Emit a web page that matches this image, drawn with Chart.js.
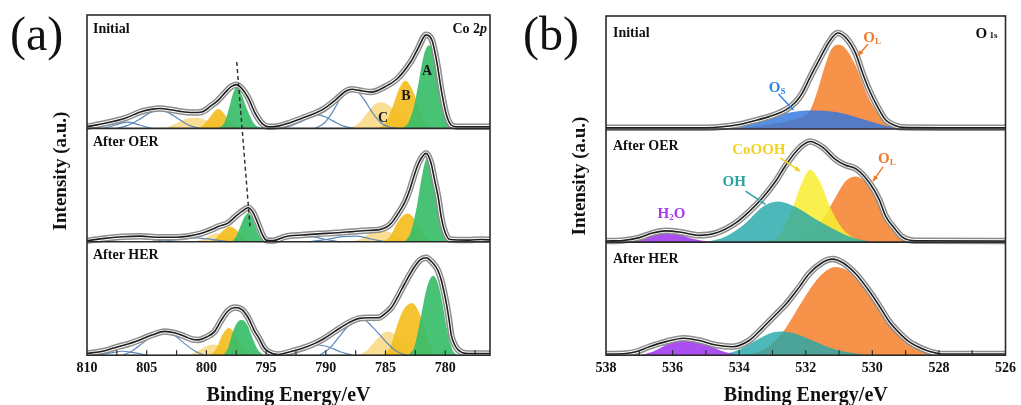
<!DOCTYPE html>
<html>
<head>
<meta charset="utf-8">
<script src="https://cdn.jsdelivr.net/npm/chart.js@4.4.1/dist/chart.umd.min.js"></script>
<style>
  html, body { margin: 0; padding: 0; overflow: hidden; background: #fff; width: 1021px; height: 405px; }
  canvas { position: absolute; top: 0; }
  #coChart { left: 0; }
  #oChart { left: 510px; }
</style>
</head>
<body>
<canvas id="coChart" width="510" height="420"></canvas>
<canvas id="oChart" width="511" height="420"></canvas>
<script>
// sub panels from top to bottom
const panelNames = ['Initial', 'After OER', 'After HER'];
const coTicks = [810, 805, 800, 795, 790, 785, 780];
const oTicks = [538, 536, 534, 532, 530, 528, 526];

// [binding energy, height as fraction of its sub panel], one list per sub panel
const coFit = [
  [[810,0.015],[808.5,0.045],[806.8,0.09],[805.4,0.15],[804.5,0.17],[803.9,0.175],[803,0.165],[802.2,0.15],[801.2,0.14],[800.4,0.145],[799.6,0.2],[799,0.25],[798.4,0.32],[797.9,0.37],[797.5,0.386],[797.1,0.36],[796.5,0.27],[795.9,0.13],[795.3,0.04],[794.8,0.015],[794,0.02],[793,0.05],[792,0.09],[791,0.13],[790.2,0.17],[789.2,0.25],[788.3,0.33],[787.8,0.345],[787.2,0.335],[786.2,0.32],[785,0.37],[784,0.44],[782.9,0.585],[782.3,0.7],[781.6,0.825],[781.1,0.775],[780.7,0.585],[780.3,0.32],[779.9,0.12],[779.5,0.03],[779,0.015],[776,0.015]],
  [[810,0.01],[808.5,0.03],[807,0.045],[805.5,0.05],[804,0.04],[802.5,0.04],[801.5,0.05],[800.4,0.075],[799.5,0.11],[799,0.135],[798.2,0.165],[797.6,0.22],[797,0.27],[796.5,0.3],[796.1,0.26],[795.7,0.165],[795.3,0.06],[795,0.015],[794.4,0.01],[793.4,0.045],[792,0.06],[790.6,0.07],[789,0.08],[787.8,0.09],[786.5,0.1],[785.6,0.105],[784.9,0.13],[784.5,0.165],[784,0.24],[783.4,0.345],[783,0.45],[782.6,0.585],[782.2,0.7],[781.6,0.78],[781.2,0.7],[780.9,0.55],[780.6,0.4],[780.3,0.2],[780,0.08],[779.6,0.02],[778,0.015],[777,0.02],[776,0.015]],
  [[810,0.015],[808.5,0.04],[807.4,0.075],[806.5,0.1],[805.7,0.13],[804.5,0.18],[803.5,0.21],[802.6,0.195],[801.8,0.165],[801.2,0.14],[800.7,0.135],[800,0.16],[799.3,0.21],[798.8,0.3],[798.2,0.39],[797.6,0.42],[797,0.4],[796.5,0.33],[796,0.22],[795.6,0.15],[795.2,0.07],[794.8,0.03],[794,0.006],[793,0.03],[792,0.06],[791,0.1],[790.1,0.15],[789.1,0.22],[788.1,0.285],[787.2,0.325],[786.4,0.33],[785.6,0.33],[785,0.37],[784.5,0.42],[784,0.51],[783.4,0.63],[782.6,0.775],[782.1,0.84],[781.6,0.86],[781.1,0.82],[780.6,0.745],[780.3,0.65],[780,0.51],[779.7,0.33],[779.5,0.18],[779.2,0.09],[778.9,0.045],[778.1,0.015],[776,0.015]]
];
// Co 2p3/2 components A, B, C
const coPeakA = [
  [[783.6,0],[783.1,0.05],[782.6,0.2],[782.2,0.42],[781.8,0.64],[781.4,0.73],[781,0.68],[780.6,0.5],[780.2,0.25],[779.8,0.08],[779.4,0.01],[779.1,0]],
  [[783.4,0],[782.9,0.08],[782.4,0.3],[782,0.55],[781.7,0.7],[781.4,0.75],[781.1,0.66],[780.8,0.48],[780.4,0.25],[780,0.07],[779.6,0]],
  [[783.1,0],[782.6,0.07],[782.2,0.25],[781.8,0.47],[781.4,0.64],[781,0.7],[780.6,0.63],[780.2,0.44],[779.8,0.2],[779.4,0.05],[779,0]]
];
const coPeakB = [
  [[785.6,0],[785,0.05],[784.4,0.19],[783.9,0.34],[783.35,0.42],[782.7,0.33],[782.2,0.18],[781.7,0.06],[781.1,0]],
  [[785.3,0],[784.6,0.05],[784,0.17],[783.5,0.235],[783.1,0.25],[782.6,0.2],[782.1,0.1],[781.5,0.03],[780.8,0]],
  [[785.3,0],[784.6,0.07],[784.1,0.24],[783.5,0.4],[782.8,0.46],[782.2,0.38],[781.7,0.22],[781.1,0.06],[780.5,0]]
];
const coPeakC = [
  [[787.9,0],[787.2,0.05],[786.5,0.14],[785.9,0.21],[785.4,0.23],[784.8,0.21],[784,0.13],[783.2,0.05],[782.4,0]],
  [[787.8,0],[787,0.03],[786.2,0.08],[785.5,0.105],[784.8,0.09],[784,0.05],[783.2,0.01],[782.6,0]],
  [[787.3,0],[786.6,0.04],[785.9,0.12],[785.3,0.19],[784.8,0.21],[784.2,0.18],[783.5,0.1],[782.8,0.03],[782.2,0]]
];
// Co 2p1/2 components
const coPeakA2 = [
  [[799,0],[798.5,0.05],[798.1,0.18],[797.8,0.3],[797.45,0.367],[797.1,0.31],[796.6,0.17],[796,0.04],[795.3,0]],
  [[797.9,0],[797.5,0.05],[797.1,0.15],[796.8,0.22],[796.5,0.255],[796.2,0.22],[795.9,0.14],[795.5,0.04],[795.1,0]],
  [[798.6,0],[798.2,0.06],[797.8,0.2],[797.4,0.29],[797,0.31],[796.6,0.27],[796.2,0.17],[795.7,0.05],[795.2,0]]
];
const coPeakB2 = [
  [[801,0],[800.4,0.02],[799.8,0.085],[799.4,0.14],[799,0.17],[798.6,0.14],[798.2,0.085],[797.6,0.02],[797,0]],
  [[799.8,0],[799.2,0.03],[798.7,0.09],[798.3,0.125],[798,0.135],[797.6,0.115],[797.2,0.07],[796.7,0.02],[796.2,0]],
  [[799.7,0],[799.2,0.05],[798.8,0.15],[798.4,0.22],[798.1,0.24],[797.7,0.2],[797.3,0.12],[796.8,0.04],[796.3,0]]
];
const coPeakC2 = [
  [[803.5,0],[802.6,0.04],[801.7,0.085],[801,0.095],[800.2,0.08],[799.4,0.04],[798.6,0.01],[798,0]],
  [[801,0],[800.2,0.03],[799.5,0.065],[799,0.075],[798.4,0.06],[797.7,0.03],[797,0.005],[796.6,0]],
  [[801.5,0],[800.7,0.04],[800,0.08],[799.4,0.095],[798.8,0.08],[798.1,0.04],[797.4,0.01],[796.8,0]]
];
// shake-up satellites (blue lines)
const coSat1 = [
  [[790.9,0],[790.1,0.05],[789.4,0.15],[788.8,0.26],[788.2,0.33],[787.8,0.34],[787.3,0.32],[786.7,0.24],[786.1,0.14],[785.4,0.05],[784.6,0.01],[784,0]],
  [[791.5,0],[790,0.02],[788.6,0.045],[787.4,0.05],[786.2,0.025],[785,0]],
  [[790.5,0],[789.7,0.06],[788.9,0.16],[788.1,0.26],[787.3,0.31],[786.8,0.31],[786.1,0.25],[785.4,0.17],[784.7,0.09],[784,0.03],[783.2,0]]
];
const coSat2 = [
  [[794,0],[793,0.02],[792.1,0.06],[791.3,0.1],[790.7,0.12],[790,0.1],[789.3,0.06],[788.5,0.02],[787.6,0]],
  [[795,0],[793.8,0.02],[792.5,0.045],[791.2,0.045],[790,0.02],[788.8,0]],
  [[793.5,0],[792.5,0.03],[791.5,0.07],[790.6,0.09],[789.7,0.07],[788.8,0.03],[787.8,0]]
];
const coSat3 = [
  [[807.5,0],[806.5,0.03],[805.6,0.08],[804.8,0.135],[803.9,0.16],[803.1,0.135],[802.3,0.08],[801.5,0.03],[800.6,0]],
  [[804,0],[802.5,0.02],[801,0.035],[799.5,0.02],[798,0]],
  [[807,0],[806.2,0.04],[805.3,0.11],[804.4,0.18],[803.5,0.2],[802.6,0.17],[801.8,0.1],[801,0.04],[800.2,0]]
];
const coSat4 = [
  [[808.6,0],[807.6,0.03],[806.6,0.055],[805.6,0.03],[804.6,0]],
  [[809,0],[807.5,0.02],[806,0.035],[804.5,0.02],[803,0]],
  [[809,0],[808,0.02],[807,0.035],[806,0.02],[805,0]]
];
// dashed guide: [energy, stacked height]
const coPeakShift = [[797.46, 2.585], [796.35, 1.138]];

const oFit = [
  [[538,0.012],[536,0.012],[535,0.012],[534.5,0.02],[534,0.04],[533.6,0.07],[533.1,0.11],[532.6,0.17],[532.3,0.24],[532.1,0.32],[531.85,0.47],[531.6,0.61],[531.3,0.77],[531.04,0.85],[530.8,0.81],[530.5,0.67],[530.3,0.5],[530.1,0.35],[529.85,0.2],[529.6,0.08],[529.3,0.03],[529.1,0.015],[528,0.012],[526,0.012]],
  [[538,0.01],[537.5,0.015],[537,0.04],[536.6,0.08],[536.2,0.1],[535.8,0.09],[535.2,0.06],[534.7,0.08],[534.1,0.17],[533.7,0.27],[533.3,0.39],[532.9,0.54],[532.6,0.68],[532.2,0.83],[531.87,0.89],[531.5,0.84],[531.1,0.73],[530.8,0.68],[530.5,0.65],[530.1,0.53],[529.8,0.38],[529.6,0.23],[529.3,0.11],[529.1,0.045],[528.7,0.012],[526,0.01]],
  [[538,0.01],[537.4,0.015],[537.1,0.03],[536.7,0.075],[536.2,0.12],[535.67,0.15],[535.2,0.13],[534.7,0.09],[534.2,0.075],[533.7,0.13],[533.3,0.24],[532.9,0.36],[532.6,0.45],[532.2,0.6],[531.9,0.72],[531.5,0.82],[531.2,0.85],[530.9,0.82],[530.5,0.72],[530.1,0.57],[529.8,0.44],[529.5,0.3],[529.2,0.2],[528.9,0.12],[528.6,0.07],[528.3,0.035],[527.9,0.01],[526,0.01]]
];
const oLattice = [
  [[534.4,0],[533.6,0.02],[532.9,0.05],[532.3,0.09],[531.9,0.15],[531.7,0.29],[531.4,0.58],[531.2,0.72],[531,0.745],[530.8,0.71],[530.5,0.56],[530.1,0.27],[529.6,0.06],[529.2,0]],
  [[532.4,0],[531.9,0.06],[531.5,0.2],[531.1,0.4],[530.8,0.54],[530.5,0.58],[530.2,0.53],[529.9,0.4],[529.6,0.23],[529.3,0.09],[528.9,0.015],[528.6,0]],
  [[533.8,0],[533.2,0.06],[532.7,0.2],[532.1,0.48],[531.6,0.69],[531.1,0.78],[530.5,0.7],[530.1,0.56],[529.6,0.34],[529.1,0.17],[528.6,0.07],[528.1,0.01],[527.8,0]]
];
const oSurface = [
  [[534.6,0],[534,0.03],[533.3,0.08],[532.6,0.14],[532.1,0.163],[531.85,0.165],[531.1,0.15],[530.3,0.09],[529.6,0.03],[529.1,0]],
  null,
  null
];
const oCoOOH = [
  null,
  [[533.2,0],[532.8,0.06],[532.4,0.3],[532.15,0.5],[531.87,0.64],[531.55,0.52],[531.3,0.33],[530.9,0.12],[530.5,0.03],[530.1,0]],
  null
];
const oHydroxide = [
  null,
  [[535,0],[534.4,0.05],[533.8,0.17],[533.3,0.31],[532.85,0.36],[532.3,0.31],[531.8,0.22],[531.2,0.12],[530.6,0.04],[530,0]],
  [[534.5,0],[534,0.05],[533.5,0.13],[533,0.2],[532.7,0.21],[532.3,0.19],[531.8,0.13],[531.2,0.06],[530.5,0.015],[530,0]]
];
const oWater = [
  null,
  [[537.4,0],[537,0.025],[536.6,0.065],[536.2,0.08],[535.8,0.065],[535.4,0.03],[534.9,0.005],[534.5,0]],
  [[537,0],[536.6,0.03],[536.2,0.09],[535.9,0.13],[535.6,0.14],[535.2,0.12],[534.8,0.07],[534.4,0.025],[534,0]]
];

const FS = "'Liberation Serif', 'Times New Roman', serif";

function pts(arr, off) {
  return arr.map(p => ({ x: p[0], y: p[1] + off }));
}
function area(arr, off, color) {
  return { data: pts(arr, off), borderWidth: 0, borderColor: 'rgba(0,0,0,0)', backgroundColor: color, fill: { value: off } };
}
function curve(arr, off, color, width) {
  return { data: pts(arr, off), borderColor: color, borderWidth: width, fill: false };
}
// data circles look like a grey band with the black fit in the middle
function fitLayers(arr, off) {
  return [curve(arr, off, '#8d8d8d', 6.5), curve(arr, off, '#ffffff', 3.5), curve(arr, off, '#1e1e1e', 1.6)];
}

const coLayers = [];
panelNames.forEach((name, i) => {
  const off = 2 - i;
  const pale = 'rgba(248,219,138,0.92)', gold = 'rgba(244,190,32,0.92)', green = 'rgba(58,190,106,0.93)';
  [[coPeakC2, pale], [coPeakB2, gold], [coPeakA2, green], [coPeakC, pale], [coPeakB, gold], [coPeakA, green]]
    .forEach(([s, c]) => coLayers.push(area(s[i], off, c)));
  [coSat1, coSat2, coSat3, coSat4].forEach(s => coLayers.push(curve(s[i], off, '#5b88bd', 1.2)));
  fitLayers(coFit[i], off).forEach(d => coLayers.push(d));
});
coLayers.push({
  data: coPeakShift.map(p => ({ x: p[0], y: p[1] })),
  borderColor: '#2a2a2a', borderWidth: 1.4, borderDash: [4, 3], fill: false, cubicInterpolationMode: 'default', tension: 0
});

const oLayers = [];
panelNames.forEach((name, i) => {
  const off = 2 - i;
  [[oLattice, '#f7924a'], [oCoOOH, 'rgba(248,238,50,0.86)'], [oSurface, 'rgba(48,118,222,0.82)'],
   [oHydroxide, 'rgba(38,168,170,0.82)'], [oWater, 'rgba(164,64,240,0.92)']]
    .forEach(([s, c]) => { if (s[i]) oLayers.push(area(s[i], off, c)); });
  fitLayers(oFit[i], off).forEach(d => oLayers.push(d));
});

function setFont(ctx, size, bold, italic) {
  ctx.font = (italic ? 'italic ' : '') + (bold ? 'bold ' : '') + size + 'px ' + FS;
}
// parts: [text, size, dy, italic]
function rich(ctx, parts, x, y, color, align) {
  let w = 0;
  parts.forEach(p => { setFont(ctx, p[1], true, p[3]); w += ctx.measureText(p[0]).width; });
  let cx = align === 'right' ? x - w : align === 'center' ? x - w / 2 : x;
  ctx.fillStyle = color;
  ctx.textAlign = 'left';
  ctx.textBaseline = 'alphabetic';
  parts.forEach(p => {
    setFont(ctx, p[1], true, p[3]);
    ctx.fillText(p[0], cx, y + (p[2] || 0));
    cx += ctx.measureText(p[0]).width;
  });
}
function arrow(ctx, x1, y1, x2, y2, color, head) {
  ctx.strokeStyle = color;
  ctx.fillStyle = color;
  ctx.lineWidth = 1.5;
  ctx.beginPath(); ctx.moveTo(x1, y1); ctx.lineTo(x2, y2); ctx.stroke();
  if (!head) return;
  const a = Math.atan2(y2 - y1, x2 - x1);
  ctx.beginPath();
  ctx.moveTo(x2, y2);
  ctx.lineTo(x2 - 6 * Math.cos(a - 0.45), y2 - 6 * Math.sin(a - 0.45));
  ctx.lineTo(x2 - 6 * Math.cos(a + 0.45), y2 - 6 * Math.sin(a + 0.45));
  ctx.closePath(); ctx.fill();
}

// frame, separators, inner ticks and all the labels
function decor(cfg) {
  return {
    id: 'decor',
    afterDatasetsDraw(chart) {
      const { ctx, chartArea: a, scales: { x, y } } = chart;
      ctx.save();
      ctx.strokeStyle = '#2b2b2b';
      ctx.lineWidth = 1.6;
      ctx.strokeRect(a.left, a.top, a.width, a.height);
      [1, 2].forEach(v => {
        const py = y.getPixelForValue(v);
        ctx.beginPath(); ctx.moveTo(a.left, py); ctx.lineTo(a.right, py); ctx.stroke();
      });
      ctx.lineWidth = 1.2;
      for (let v = cfg.tickFrom; v <= cfg.tickTo + 1e-6; v += cfg.tickStep) {
        const px = x.getPixelForValue(v);
        ctx.beginPath(); ctx.moveTo(px, a.bottom); ctx.lineTo(px, a.bottom - 5); ctx.stroke();
      }
      // panel letter
      ctx.fillStyle = '#111';
      ctx.font = '48px ' + FS;
      ctx.textAlign = 'left';
      ctx.textBaseline = 'alphabetic';
      ctx.fillText(cfg.letter, cfg.letterX, 50);
      // y title
      ctx.save();
      ctx.translate(cfg.yTitle[0], cfg.yTitle[1]);
      ctx.rotate(-Math.PI / 2);
      setFont(ctx, 19, true);
      ctx.textAlign = 'center';
      ctx.textBaseline = 'middle';
      ctx.fillText('Intensity (a.u.)', 0, 0);
      ctx.restore();
      // sub panel names
      panelNames.forEach((name, i) => {
        rich(ctx, [[name, 14]], a.left + cfg.nameDx, y.getPixelForValue(3 - i) + cfg.nameDy, '#111', 'left');
      });
      rich(ctx, cfg.corner, a.right - cfg.cornerDx, a.top + cfg.cornerDy, '#111', 'right');
      cfg.notes.forEach(n => {
        rich(ctx, n.parts, x.getPixelForValue(n.at[0]), y.getPixelForValue(n.at[1]), n.color, n.align || 'left');
        if (n.arrow) {
          arrow(ctx, x.getPixelForValue(n.arrow[0]), y.getPixelForValue(n.arrow[1]),
            x.getPixelForValue(n.arrow[2]), y.getPixelForValue(n.arrow[3]), n.color, n.head);
        }
      });
      ctx.restore();
    }
  };
}

function options(range, ticks, pad) {
  return {
    responsive: false,
    animation: false,
    devicePixelRatio: 1,
    layout: { padding: pad },
    elements: { point: { radius: 0 }, line: { cubicInterpolationMode: 'monotone' } },
    plugins: { legend: { display: false }, tooltip: { enabled: false } },
    scales: {
      x: {
        type: 'linear', reverse: true, min: range[0], max: range[1],
        afterBuildTicks: s => { s.ticks = ticks.map(v => ({ value: v })); },
        grid: { display: false, drawTicks: false },
        border: { display: false },
        ticks: { autoSkip: false, padding: 5, color: '#111', font: { family: FS, size: 14, weight: 'bold' } },
        title: {
          display: true, text: 'Binding Energy/eV', color: '#111', padding: { top: 2, bottom: 0 },
          font: { family: FS, size: 20, weight: 'bold', lineHeight: 1.2 }
        }
      },
      y: { display: false, min: 0, max: 3 }
    }
  };
}

new Chart(document.getElementById('coChart'), {
  type: 'line',
  data: { datasets: coLayers.reverse() },
  options: options([776.25, 810], coTicks, { left: 87, right: 20, top: 15, bottom: 12 }),
  plugins: [decor({
    letter: '(a)', letterX: 10, yTitle: [61, 171],
    tickFrom: 777.5, tickTo: 807.5, tickStep: 2.5,
    nameDx: 6, nameDy: 17.5,
    corner: [['Co 2', 14], ['p', 14, 0, true]], cornerDx: 3, cornerDy: 18,
    notes: [
      { parts: [['A', 14]], at: [781.52, 2.47], color: '#1a1a1a', align: 'center' },
      { parts: [['B', 14]], at: [783.3, 2.25], color: '#1a1a1a', align: 'center' },
      { parts: [['C', 14]], at: [785.2, 2.056], color: '#1a1a1a', align: 'center' }
    ]
  })]
});

new Chart(document.getElementById('oChart'), {
  type: 'line',
  data: { datasets: oLayers.reverse() },
  options: options([526, 538], oTicks, { left: 96, right: 13, top: 16, bottom: 12 }),
  plugins: [decor({
    letter: '(b)', letterX: 13, yTitle: [70, 176],
    tickFrom: 527, tickTo: 537, tickStep: 1,
    nameDx: 7, nameDy: 21,
    corner: [['O', 15], [' 1s', 9, 0]], cornerDx: 8, cornerDy: 22,
    notes: [
      { parts: [['O', 15], ['L', 9, 2]], at: [530.27, 2.77], color: '#f07a2a', arrow: [530.13, 2.752, 530.43, 2.649], head: true },
      { parts: [['O', 15], ['S', 9, 2]], at: [533.11, 2.327], color: '#2f86e8', arrow: [532.82, 2.31, 532.37, 2.168] },
      { parts: [['CoOOH', 15]], at: [534.21, 1.781], color: '#f2d21c', arrow: [532.77, 1.746, 532.17, 1.628], head: true },
      { parts: [['OH', 15]], at: [534.5, 1.496], color: '#27a3a3', arrow: [533.81, 1.451, 533.21, 1.334] },
      { parts: [['H', 15], ['2', 9, 2], ['O', 15]], at: [536.45, 1.215], color: '#a33cf0' },
      { parts: [['O', 15], ['L', 9, 2]], at: [529.83, 1.702], color: '#f07a2a', arrow: [529.68, 1.666, 529.98, 1.54], head: true }
    ]
  })]
});
</script>
</body>
</html>
